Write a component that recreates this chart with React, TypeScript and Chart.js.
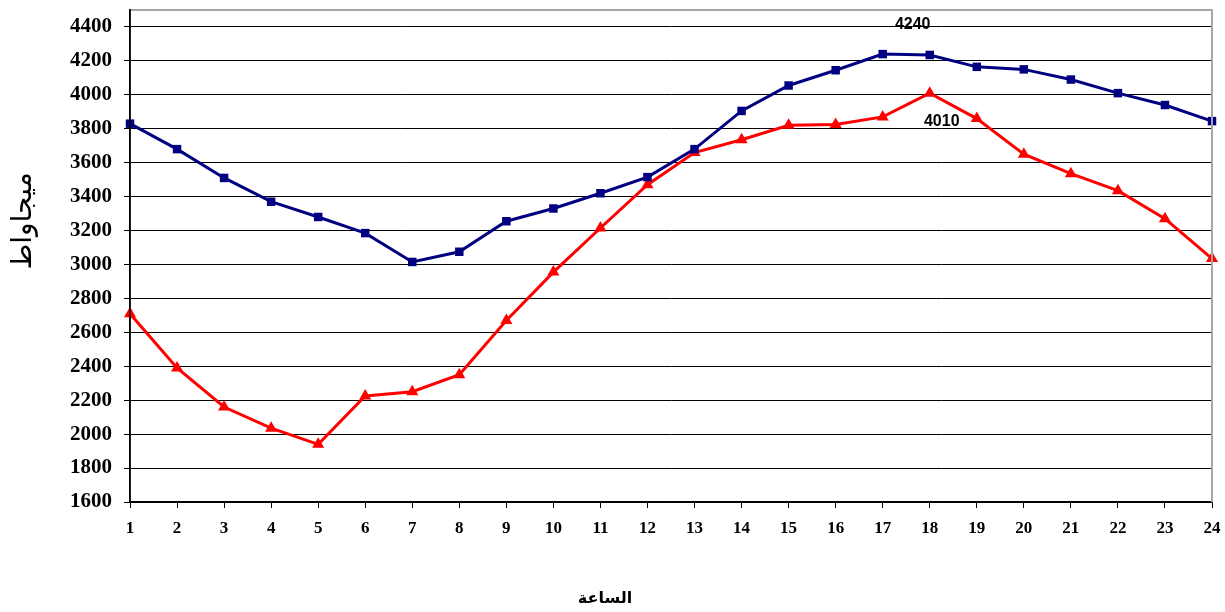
import React, { useEffect, useRef } from "react";
import { Chart, registerables } from "chart.js";

Chart.register(...registerables);

const hours = ["1","2","3","4","5","6","7","8","9","10","11","12","13","14","15","16","17","18","19","20","21","22","23","24"];
const blueSeries = [3830, 3680, 3510, 3370, 3280, 3185, 3015, 3075, 3255, 3330, 3420, 3515, 3680, 3905, 4055, 4145, 4240, 4235, 4165, 4150, 4090, 4010, 3940, 3845];
const redSeries = [2710, 2390, 2160, 2035, 1940, 2225, 2250, 2350, 2670, 2955, 3215, 3470, 3660, 3735, 3820, 3825, 3870, 4010, 3860, 3650, 3535, 3435, 3270, 3035];
const yTickValues = [1600, 1800, 2000, 2200, 2400, 2600, 2800, 3000, 3200, 3400, 3600, 3800, 4000, 4200, 4400];
const yMin = 1600;
const yTop = 4500;
const yTitle = "ميجاواط";
const xTitle = "الساعة";
const blueLabel = "4240";
const redLabel = "4010";

const decorPlugin = {
  id: "decor",
  afterDatasetsDraw(chart: any) {
    const { ctx, chartArea } = chart;
    ctx.save();
    ctx.strokeStyle = "#a6a6a6";
    ctx.lineWidth = 2;
    ctx.beginPath();
    ctx.moveTo(chartArea.left, chartArea.top);
    ctx.lineTo(chartArea.right, chartArea.top);
    ctx.lineTo(chartArea.right, chartArea.bottom);
    ctx.stroke();
    ctx.strokeStyle = "#000";
    ctx.lineWidth = 1.5;
    ctx.beginPath();
    ctx.moveTo(chartArea.left, chartArea.top - 1);
    ctx.lineTo(chartArea.left, chartArea.bottom);
    ctx.stroke();

    ctx.fillStyle = "#000";
    ctx.font = "bold 16px 'Liberation Sans', Arial, sans-serif";
    ctx.textAlign = "center";
    ctx.textBaseline = "middle";
    const bIdx = blueSeries.indexOf(Math.max(...blueSeries));
    const rIdx = redSeries.indexOf(Math.max(...redSeries));
    const bp = chart.getDatasetMeta(0).data[bIdx];
    const rp = chart.getDatasetMeta(1).data[rIdx];
    if (bp) ctx.fillText(blueLabel, bp.x + 30, bp.y - 30);
    if (rp) ctx.fillText(redLabel, rp.x + 12, rp.y + 28);

    ctx.font = "28px 'DejaVu Sans', sans-serif";
    ctx.translate(24, 221);
    ctx.rotate(-Math.PI / 2);
    ctx.fillText(yTitle, 0, 0);
    ctx.restore();
    ctx.save();
    ctx.fillStyle = "#000";
    ctx.font = "bold 16px 'DejaVu Sans', sans-serif";
    ctx.textAlign = "center";
    ctx.textBaseline = "middle";
    ctx.fillText(xTitle, 605, 599);
    ctx.restore();
  },
};

export default function App() {
  const ref = useRef<HTMLCanvasElement | null>(null);
  useEffect(() => {
    if (!ref.current) return;
    const chart = new Chart(ref.current, {
      type: "line",
      data: {
        labels: hours,
        datasets: [
          {
            data: blueSeries,
            borderColor: "#000080",
            backgroundColor: "#000080",
            borderWidth: 3,
            pointStyle: "rect",
            pointRadius: 6,
            pointBorderWidth: 0,
            tension: 0,
          },
          {
            data: redSeries,
            borderColor: "#ff0000",
            backgroundColor: "#ff0000",
            borderWidth: 3,
            pointStyle: "triangle",
            pointRadius: 7,
            pointBorderWidth: 0,
            tension: 0,
          },
        ],
      },
      options: {
        responsive: false,
        animation: false,
        devicePixelRatio: 1,
        layout: { padding: { left: 0, top: 10, right: 13, bottom: 0 } },
        plugins: { legend: { display: false }, tooltip: { enabled: false } },
        scales: {
          x: {
            type: "category",
            offset: false,
            grid: { drawOnChartArea: false, drawTicks: true, tickLength: 6, color: "#000", lineWidth: 1 },
            border: { color: "#000", width: 1.5 },
            ticks: {
              color: "#000",
              padding: 10,
              maxRotation: 0,
              autoSkip: false,
              font: { family: "'Liberation Serif', 'Times New Roman', serif", size: 17, weight: "bold" },
            },
            afterFit(scale: any) {
              scale.height = 110;
              scale.paddingLeft = 0;
              scale.paddingRight = 0;
            },
          },
          y: {
            min: yMin,
            max: yTop,
            grid: { color: "#000", lineWidth: 1, tickLength: 6, tickColor: "#000" },
            border: { color: "#000", width: 1.5 },
            ticks: {
              color: "#000",
              padding: 12,
              font: { family: "'Liberation Serif', 'Times New Roman', serif", size: 21, weight: "bold" },
              callback: (v: any) => String(v),
            },
            afterBuildTicks(scale: any) {
              scale.ticks = yTickValues.map((v) => ({ value: v }));
            },
            afterFit(scale: any) {
              scale.width = 130;
              scale.paddingTop = 0;
              scale.paddingBottom = 0;
            },
          },
        },
      },
      plugins: [decorPlugin],
    } as any);
    return () => chart.destroy();
  }, []);
  return (
    <div style={{ position: "absolute", left: 0, top: 0, width: 1225, height: 612, background: "#fff" }}>
      <canvas ref={ref} width={1225} height={612} style={{ width: 1225, height: 612 }} />
    </div>
  );
}
